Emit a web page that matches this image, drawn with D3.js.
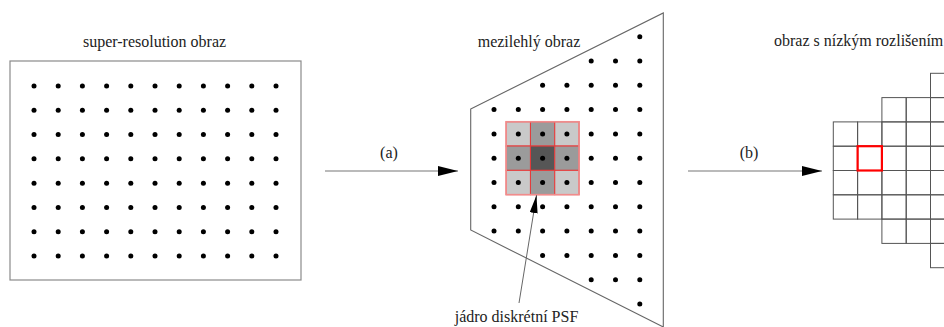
<!DOCTYPE html>
<html><head><meta charset="utf-8">
<script src="https://cdn.jsdelivr.net/npm/d3@7/dist/d3.min.js"></script>
<style>html,body{margin:0;padding:0;background:#fff;overflow:hidden}
text{font-family:"Liberation Serif","Times New Roman",Tinos,"DejaVu Serif",serif;}</style>
</head><body>
<svg id="c" width="944" height="327"></svg>
<script>
// ---- data ----
const titles = ["super-resolution obraz", "mezilehlý obraz", "obraz s nízkým rozlišením"];
const stepLabels = ["(a)", "(b)"];
const annotation = "jádro diskrétní PSF";
const hrCols = [0,1,2,3,4,5,6,7,8,9,10];
const hrRows = [0,1,2,3,4,5,6,7];
// intermediate image: for each row, first and last sample column
const midRowSpans = [[6,6],[4,6],[2,6],[0,6],[0,6],[0,6],[0,6],[0,6],[0,6],[2,6],[4,6],[6,6]];
// discrete PSF kernel weights (rows 4..6, cols 1..3)
const kernel = [[0.25,0.5,0.25],[0.5,1,0.5],[0.25,0.5,0.25]];
const kernelRow0 = 4, kernelCol0 = 1;
// low-resolution image: for each column, first and last pixel row
const lrColSpans = [[2,5],[2,5],[1,6],[1,6],[0,7],[0,7]];
const lrHighlight = [1,3];

const svg = d3.select("#c");

// ---- scales ----
const hx = d3.scaleLinear().domain([0,10]).range([34,276]);
const hy = d3.scaleLinear().domain([0,7]).range([86,256]);
const mx = d3.scaleLinear().domain([0,6]).range([494,639.8]);
const my = d3.scaleLinear().domain([0,11]).range([36.7,304]);
const cell = 24.3;
const lx = d3.scaleLinear().domain([0,1]).range([833.3,833.3+cell]);
const ly = d3.scaleLinear().domain([0,1]).range([73.3,73.3+cell]);
const gray = d3.scaleLinear().domain([0.25,0.5,1]).range(["#c9c9c9","#9b9b9b","#565656"]);

// defs: arrowheads
const defs = svg.append("defs");
defs.append("marker").attr("id","ah").attr("viewBox","0 0 20 10").attr("refX",20).attr("refY",5)
  .attr("markerUnits","userSpaceOnUse").attr("markerWidth",20).attr("markerHeight",10).attr("orient","auto")
  .append("path").attr("d","M0,0 L20,5 L0,10 Z").attr("fill","#000");
defs.append("marker").attr("id","ah2").attr("viewBox","0 0 18 8").attr("refX",18).attr("refY",4)
  .attr("markerUnits","userSpaceOnUse").attr("markerWidth",18).attr("markerHeight",8).attr("orient","auto")
  .append("path").attr("d","M0,0 L18,4 L0,8 Z").attr("fill","#000");

// ---- left panel ----
svg.append("rect").attr("x",10).attr("y",61).attr("width",291).attr("height",219)
  .attr("fill","none").attr("stroke","#8a8a8a").attr("stroke-width",1.2);
const hrPts = [];
hrRows.forEach(r => hrCols.forEach(c => hrPts.push([c,r])));
svg.append("g").selectAll("circle").data(hrPts).join("circle")
  .attr("cx",d=>hx(d[0])).attr("cy",d=>hy(d[1])).attr("r",2.5).attr("fill","#000");

// ---- arrows ----
svg.append("line").attr("x1",325).attr("x2",458).attr("y1",171).attr("y2",171)
  .attr("stroke","#777").attr("stroke-width",1.2).attr("marker-end","url(#ah)");
svg.append("line").attr("x1",688).attr("x2",822).attr("y1",171).attr("y2",171)
  .attr("stroke","#777").attr("stroke-width",1.2).attr("marker-end","url(#ah)");

// ---- middle panel ----
svg.append("path").attr("d","M470.7,109 L663.3,13 L663.3,327 L470.7,230 Z")
  .attr("fill","none").attr("stroke","#666").attr("stroke-width",1.1);
// kernel
const kCells = [];
kernel.forEach((row,i)=>row.forEach((w,j)=>kCells.push({r:kernelRow0+i,c:kernelCol0+j,w})));
const kg = svg.append("g");
kg.selectAll("rect").data(kCells).join("rect")
  .attr("x",d=>mx(d.c)-cell/2).attr("y",d=>my(d.r)-cell/2).attr("width",cell).attr("height",cell)
  .attr("fill",d=>gray(d.w)).attr("stroke","#e53a3a").attr("stroke-width",1);
kg.append("rect").attr("x",mx(kernelCol0)-cell/2).attr("y",my(kernelRow0)-cell/2)
  .attr("width",cell*3).attr("height",cell*3).attr("fill","none")
  .attr("stroke","#f08c8c").attr("stroke-width",1.6);
const midPts = [];
midRowSpans.forEach((s,r)=>{ for(let c=s[0];c<=s[1];c++) midPts.push([c,r]); });
svg.append("g").selectAll("circle").data(midPts).join("circle")
  .attr("cx",d=>mx(d[0])).attr("cy",d=>my(d[1])).attr("r",2.5).attr("fill","#000");
// annotation arrow
svg.append("line").attr("x1",519).attr("y1",303).attr("x2",536.5).attr("y2",my(kernelRow0+2)+cell/2+0.5)
  .attr("stroke","#666").attr("stroke-width",1).attr("marker-end","url(#ah2)");

// ---- right panel ----
const lrCells = [];
lrColSpans.forEach((s,c)=>{ for(let r=s[0];r<=s[1];r++) lrCells.push([c,r]); });
svg.append("g").selectAll("rect").data(lrCells).join("rect")
  .attr("x",d=>lx(d[0])).attr("y",d=>ly(d[1])).attr("width",cell).attr("height",cell)
  .attr("fill","none").attr("stroke","#555").attr("stroke-width",1);
svg.append("rect").attr("x",lx(lrHighlight[0])).attr("y",ly(lrHighlight[1]))
  .attr("width",cell).attr("height",cell).attr("fill","none").attr("stroke","#f00").attr("stroke-width",2.2);

// ---- text ----
const txt = (s,x,y,anchor) => svg.append("text").attr("x",x).attr("y",y).attr("text-anchor",anchor||"middle")
  .attr("font-size",16).attr("fill","#222").text(s);
txt(titles[0],154.5,46.5);
txt(titles[1],529,46.5);
txt(titles[2],774,46,"start");
txt(stepLabels[0],389,158);
txt(stepLabels[1],749,158);
txt(annotation,516.5,322);
</script>
</body></html>
